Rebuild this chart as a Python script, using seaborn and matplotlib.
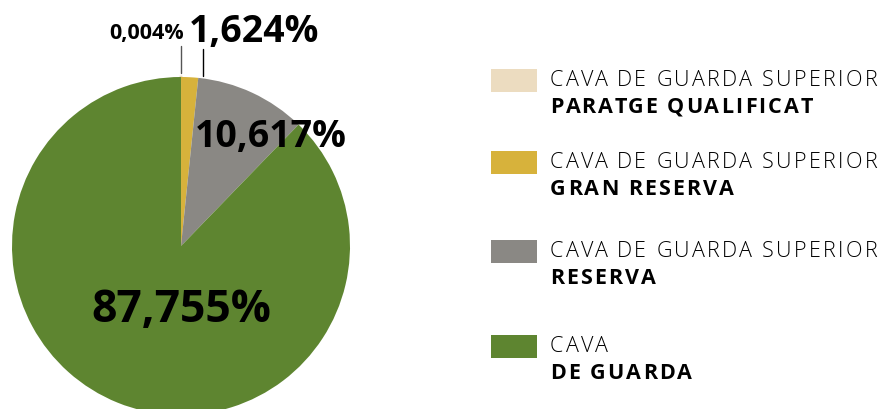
import matplotlib
matplotlib.use('Agg')
import matplotlib.pyplot as plt
from matplotlib.patches import Rectangle
from matplotlib.font_manager import FontProperties
import seaborn as sns

# dati
categorie = ['CAVA DE GUARDA SUPERIOR\nPARATGE QUALIFICAT',
             'CAVA DE GUARDA SUPERIOR\nGRAN RESERVA',
             'CAVA DE GUARDA SUPERIOR\nRESERVA',
             'CAVA\nDE GUARDA']
valori = [0.004, 1.624, 10.617, 87.755]
etichette = ['0,004%', '1,624%', '10,617%', '87,755%']
colori = ['#ecdcc0', '#d7b23b', '#8a8884', '#5e8530']

sns.set_theme(style='white')
plt.rcParams['font.family'] = ['Open Sans', 'DejaVu Sans']

W, H = 883, 410
fig = plt.figure(figsize=(W / 100, H / 100), dpi=100)
renderer = fig.canvas.get_renderer()

# torta: centro (181,247), raggio 169 px
cx, cy, r = 181, 247, 169
ax = fig.add_axes([(cx - r) / W, (H - cy - r) / H, 2 * r / W, 2 * r / H])
wedges, _ = ax.pie(valori, colors=colori, startangle=90, counterclock=False,
                   radius=1, wedgeprops=dict(linewidth=0))
wedges[0].set_edgecolor(colori[0])
wedges[0].set_linewidth(2)
ax.set_xlim(-1, 1)
ax.set_ylim(-1, 1)
ax.set_aspect('equal')
ax.axis('off')


def fx(px):
    return px / W


def fy(py):
    return 1 - py / H


# testo con spaziatura tra le lettere (pixel)
def testo_spaziato(x, y, s, size, weight, spazio):
    prop = FontProperties(family=['Open Sans', 'DejaVu Sans'], size=size, weight=weight)
    for i, ch in enumerate(s):
        if ch == ' ':
            continue
        w = renderer.get_text_width_height_descent(s[:i], prop, ismath=False)[0] if i else 0
        fig.text(fx(x + w + i * spazio), fy(y), ch, ha='left', va='baseline',
                 fontproperties=prop, color='black')


# etichette percentuali
fig.text(fx(181), fy(322), etichette[3], ha='center', va='baseline',
         fontsize=32, fontweight='bold', color='black')
fig.text(fx(271), fy(147), etichette[2], ha='center', va='baseline',
         fontsize=27, fontweight='bold', color='black')
fig.text(fx(254), fy(42), etichette[1], ha='center', va='baseline',
         fontsize=27, fontweight='bold', color='black')
fig.text(fx(147), fy(39), etichette[0], ha='center', va='baseline',
         fontsize=15.5, fontweight='bold', color='black')

# linee guida
fig.add_artist(plt.Line2D([fx(181), fx(181)], [fy(47), fy(74)], color='#555555', lw=1))
fig.add_artist(plt.Line2D([fx(203), fx(203)], [fy(50), fy(77)], color='black', lw=1))

# legenda manuale
tops = [70, 152, 241, 336]
for top, cat, col in zip(tops, categorie, colori):
    riga1, riga2 = cat.split('\n')
    fig.add_artist(Rectangle((fx(491), fy(top + 23)), 46 / W, 23 / H,
                             facecolor=col, edgecolor='none', transform=fig.transFigure))
    testo_spaziato(550, top + 16, riga1, 15.5, 'light', 2.3)
    testo_spaziato(550, top + 43, riga2, 15.5, 'bold', 2.1)

fig.savefig('out.png', dpi=100)
